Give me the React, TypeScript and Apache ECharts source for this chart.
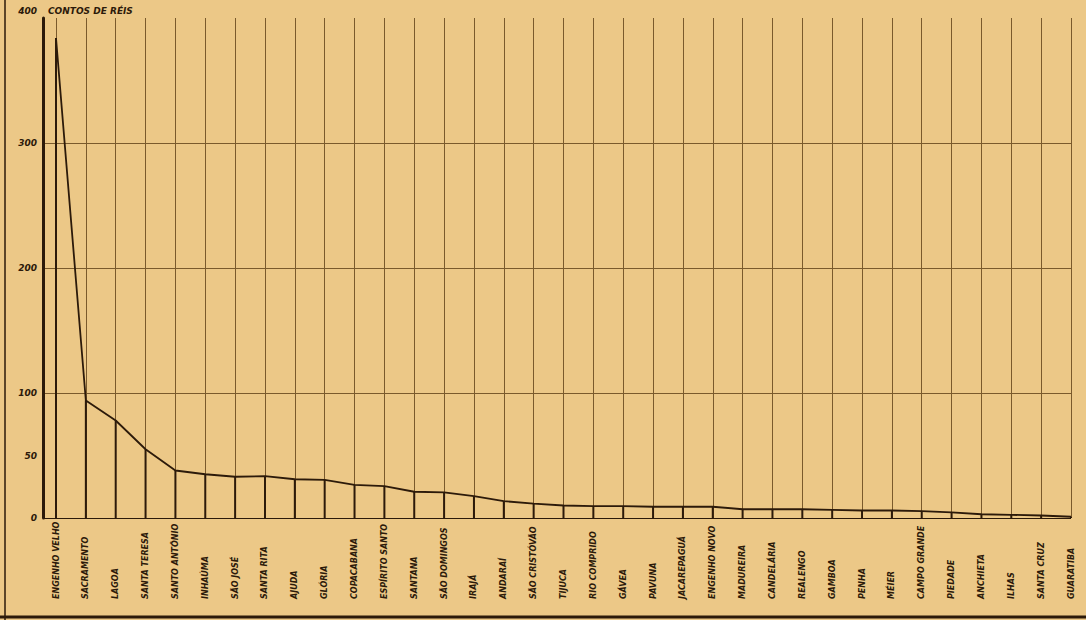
import React, { useEffect, useRef } from "react";
import * as echarts from "echarts";

const categories: string[] = [
  "ENGENHO VELHO", "SACRAMENTO", "LAGOA", "SANTA TERESA", "SANTO ANTÔNIO",
  "INHAÚMA", "SÃO JOSÉ", "SANTA RITA", "AJUDA", "GLÓRIA",
  "COPACABANA", "ESPÍRITO SANTO", "SANTANA", "SÃO DOMINGOS", "IRAJÁ",
  "ANDARAÍ", "SÃO CRISTÓVÃO", "TIJUCA", "RIO COMPRIDO", "GÁVEA",
  "PAVUNA", "JACAREPAGUÁ", "ENGENHO NOVO", "MADUREIRA", "CANDELÁRIA",
  "REALENGO", "GAMBOA", "PENHA", "MÉIER", "CAMPO GRANDE",
  "PIEDADE", "ANCHIETA", "ILHAS", "SANTA CRUZ", "GUARATIBA",
];

const values: number[] = [
  384, 94, 78, 55, 38,
  35, 33, 33.5, 31, 30.5,
  26.5, 25.5, 21, 20.5, 17.5,
  13.5, 11.5, 10, 9.5, 9.5,
  9, 9, 9, 7, 7,
  7, 6.5, 6, 6, 5.5,
  4.5, 3, 2.5, 2, 1,
];

const yTickLabels: number[] = [0, 50, 100, 200, 300, 400];
const yGridLines: number[] = [0, 100, 200, 300];
const unitLabel = "CONTOS DE RÉIS";

const BG = "#ecc887";
const INK = "#2c1a0a";
const GRID = "#7a5a2c";
const FONT = "DejaVu Sans";

export default function App() {
  const ref = useRef<HTMLDivElement>(null);
  useEffect(() => {
    if (!ref.current) return;
    const chart = echarts.init(ref.current, undefined, { renderer: "svg" });
    const ticks: number[] = [];
    for (let v = 0; v <= 400; v += 50) ticks.push(v);
    const splitColors = ticks.map((v) =>
      v === 0 ? INK : yGridLines.includes(v) ? GRID : "rgba(0,0,0,0)"
    );
    chart.setOption({
      animation: false,
      backgroundColor: BG,
      grid: [
        { left: 56, right: 15, top: 18, bottom: 102 },
        { left: 43, right: 15, top: 18, bottom: 102 },
      ],
      xAxis: [
        {
          type: "category",
          gridIndex: 0,
          data: categories,
          boundaryGap: false,
          axisLine: { show: false },
          axisTick: { show: false },
          axisLabel: {
            interval: 0,
            rotate: 90,
            align: "left",
            margin: 81,
            color: INK,
            fontFamily: FONT,
            fontStyle: "italic",
            fontWeight: "bold",
            fontSize: 8,
          },
          splitLine: {
            show: true,
            interval: 0,
            lineStyle: { color: GRID, width: 1 },
          },
        },
        {
          type: "value",
          gridIndex: 1,
          min: 0,
          max: 1,
          show: false,
        },
      ],
      yAxis: [
        {
          type: "value",
          gridIndex: 0,
          min: 0,
          max: 400,
          show: false,
        },
        {
          type: "value",
          gridIndex: 1,
          min: 0,
          max: 400,
          interval: 50,
          name: unitLabel,
          nameLocation: "end",
          nameGap: 7,
          nameTextStyle: {
            align: "left",
            verticalAlign: "middle",
            padding: [0, 0, 0, 5],
            color: INK,
            fontFamily: FONT,
            fontStyle: "italic",
            fontWeight: "bold",
            fontSize: 9,
          },
          axisLine: { show: true, lineStyle: { color: INK, width: 3 } },
          axisTick: { show: false },
          axisLabel: {
            margin: 6,
            color: INK,
            fontFamily: FONT,
            fontStyle: "italic",
            fontWeight: "bold",
            fontSize: 9,
            formatter: (v: number) =>
              v === 400
                ? "{t|" + v + "}"
                : yTickLabels.includes(v)
                ? String(v)
                : "",
            rich: {
              t: {
                padding: [0, 0, 14, 0],
                color: INK,
                fontFamily: FONT,
                fontStyle: "italic",
                fontWeight: "bold",
                fontSize: 9,
              },
            },
          },
          splitLine: {
            show: true,
            showMinLine: true,
            showMaxLine: true,
            lineStyle: { color: splitColors, width: 1.2 },
          },
        },
      ],
      graphic: [
        {
          type: "line",
          shape: { x1: 5, y1: 0, x2: 5, y2: 620 },
          style: { stroke: INK, lineWidth: 1.5 },
        },
        {
          type: "line",
          shape: { x1: 0, y1: 617, x2: 1086, y2: 617 },
          style: { stroke: INK, lineWidth: 3 },
        },
      ],
      series: [
        {
          type: "bar",
          xAxisIndex: 0,
          yAxisIndex: 0,
          data: values,
          barWidth: 2,
          itemStyle: { color: INK },
          silent: true,
        },
        {
          type: "line",
          xAxisIndex: 0,
          yAxisIndex: 0,
          data: values,
          symbol: "none",
          lineStyle: { color: INK, width: 1.8 },
          silent: true,
        },
      ],
    });
    return () => chart.dispose();
  }, []);
  return (
    <div
      ref={ref}
      style={{ position: "fixed", left: 0, top: 0, width: 1086, height: 620 }}
    />
  );
}
